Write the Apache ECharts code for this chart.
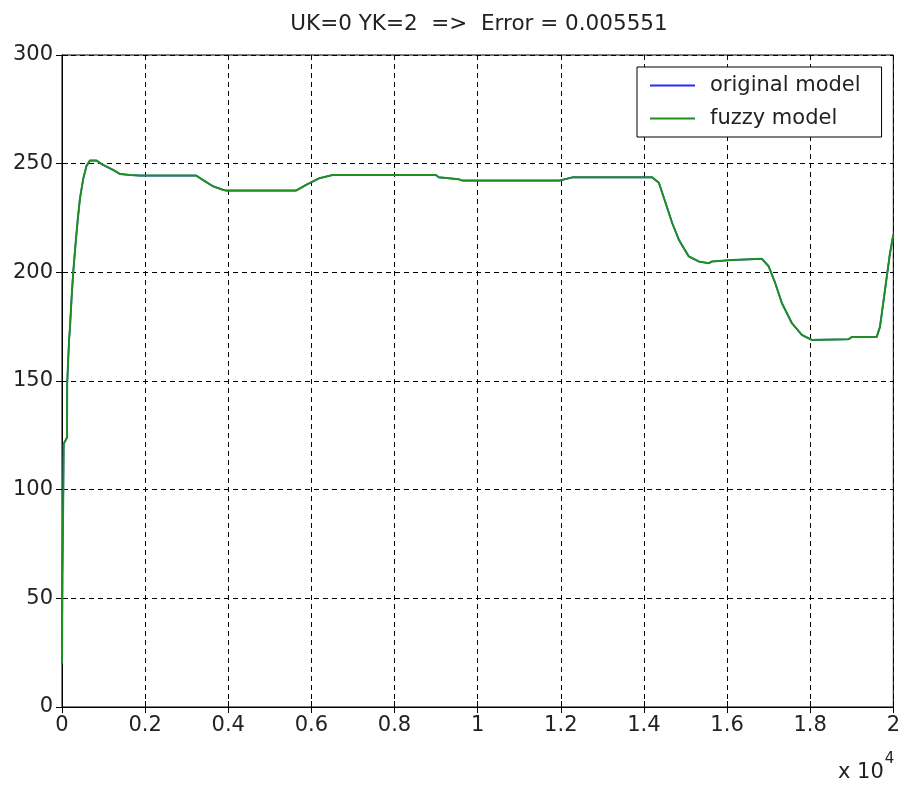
<!DOCTYPE html>
<html>
<head>
<meta charset="utf-8">
<title>UK=0 YK=2 model comparison</title>
<script src="https://cdn.jsdelivr.net/npm/echarts@6/dist/echarts.min.js"></script>
<style>
  html, body { margin: 0; padding: 0; background: #fff; }
  #chart { width: 903px; height: 787px; }
</style>
</head>
<body>
<div id="chart"></div>
<script>
// Time axis in units of 1e4 samples
const xTicks = [0, 0.2, 0.4, 0.6, 0.8, 1, 1.2, 1.4, 1.6, 1.8, 2];
const yTicks = [0, 50, 100, 150, 200, 250, 300];

// Sample times (x 1e4) and model outputs
const time = [
  0, 0.001, 0.003, 0.004, 0.012, 0.0125, 0.017, 0.019, 0.023, 0.027, 0.033,
  0.038, 0.043, 0.051, 0.059, 0.067, 0.083, 0.099, 0.123, 0.139, 0.163,
  0.187, 0.323, 0.339, 0.363, 0.387, 0.395, 0.563, 0.587, 0.619, 0.651,
  0.899, 0.907, 0.955, 0.963, 1.196, 1.228, 1.420, 1.436, 1.452, 1.468,
  1.484, 1.508, 1.532, 1.556, 1.564, 1.612, 1.684, 1.700, 1.716, 1.732,
  1.756, 1.780, 1.804, 1.892, 1.900, 1.960, 1.968, 1.980, 1.992, 2.000
];
const originalModel = [
  20, 60, 97, 121, 124, 149, 169, 174, 188, 200, 214,
  224.5, 233.7, 243, 249, 251.4, 251.4, 249.4, 247.1, 245.3, 244.8,
  244.5, 244.5, 242.5, 239.6, 238, 237.6, 237.6, 240.2, 243.3, 244.8,
  244.8, 243.7, 242.8, 242.2, 242.2, 243.7, 243.7, 241.2, 232, 222.7,
  215, 207.3, 205, 204.2, 205, 205.7, 206.2, 202.8, 195, 185.8,
  176.6, 171.2, 168.9, 169.2, 170.2, 170.2, 175, 191.9, 208.8, 217.3
];
const fuzzyModel = [
  20, 60, 97, 121, 124, 149, 169, 174, 188, 200, 214,
  224.5, 233.7, 243, 249, 251.4, 251.4, 249.4, 247.1, 245.3, 244.8,
  244.5, 244.5, 242.5, 239.6, 238, 237.6, 237.6, 240.2, 243.3, 244.8,
  244.8, 243.7, 242.8, 242.2, 242.2, 243.7, 243.7, 241.2, 232, 222.7,
  215, 207.3, 205, 204.2, 205, 205.7, 206.2, 202.8, 195, 185.8,
  176.6, 171.2, 168.9, 169.2, 170.2, 170.2, 175, 191.9, 208.8, 217.3
];

const seriesNames = ['original model', 'fuzzy model'];
const titleText = 'UK=0 YK=2  =>  Error = 0.005551';

const FONT = 'DejaVu Sans';
const TXT = '#222';
const FS = 21;

const pairs = (ys) => time.map((t, i) => [t, ys[i]]);

const gridLine = { show: true, lineStyle: { color: '#000', type: [5, 4], width: 1 } };

const chart = echarts.init(document.getElementById('chart'), null, { renderer: 'canvas' });
chart.setOption({
  backgroundColor: '#fff',
  animation: false,
  title: {
    text: titleText,
    left: 474, top: 8, textAlign: 'center',
    textStyle: { fontFamily: FONT, fontSize: 21.5, fontWeight: 'normal', color: TXT }
  },
  grid: {
    left: 62, right: 7, top: 55, bottom: 80,
    show: true, borderColor: '#000', borderWidth: 1, backgroundColor: '#fff'
  },
  legend: {
    data: seriesNames,
    orient: 'vertical',
    left: 637, top: 67,
    padding: [8, 21, 8, 13],
    itemGap: 12,
    itemWidth: 45, itemHeight: 2,
    icon: 'rect',
    backgroundColor: '#fff',
    borderColor: '#000', borderWidth: 1,
    textStyle: { fontFamily: FONT, fontSize: FS, color: TXT, padding: [0, 0, 0, 10] }
  },
  xAxis: [{
    type: 'value', min: 0, max: 2, interval: 0.2,
    axisLine: { show: true, lineStyle: { color: '#000' } },
    axisTick: { show: true, inside: true, length: 6, lineStyle: { color: '#000' } },
    axisLabel: {
      fontFamily: FONT, fontSize: FS, color: TXT, margin: 8,
      formatter: (v) => {
        const m = xTicks.find((t) => Math.abs(t - v) < 1e-9);
        return m === undefined ? '' : String(m);
      }
    },
    splitLine: gridLine
  }, {
    type: 'value', min: 0, max: 2, interval: 0.2, position: 'top',
    axisLine: { show: true, lineStyle: { color: '#000' } },
    axisTick: { show: true, inside: true, length: 6, lineStyle: { color: '#000' } },
    axisLabel: { show: false }, splitLine: { show: false }
  }],
  yAxis: [{
    type: 'value', min: 0, max: 300, interval: 50,
    axisLine: { show: true, lineStyle: { color: '#000' } },
    axisTick: { show: true, inside: true, length: 6, lineStyle: { color: '#000' } },
    axisLabel: {
      fontFamily: FONT, fontSize: FS, color: TXT, margin: 9,
      formatter: (v) => (yTicks.includes(v) ? String(v) : '')
    },
    splitLine: gridLine
  }, {
    type: 'value', min: 0, max: 300, interval: 50, position: 'right',
    axisLine: { show: true, lineStyle: { color: '#000' } },
    axisTick: { show: true, inside: true, length: 6, lineStyle: { color: '#000' } },
    axisLabel: { show: false }, splitLine: { show: false }
  }],
  series: [{
    name: seriesNames[0], type: 'line', data: pairs(originalModel),
    showSymbol: false, symbol: 'none', smooth: false,
    lineStyle: { color: '#2a2aff', width: 1.6 }, itemStyle: { color: '#2a2aff' }
  }, {
    name: seriesNames[1], type: 'line', data: pairs(fuzzyModel),
    showSymbol: false, symbol: 'none', smooth: false,
    lineStyle: { color: '#1f901f', width: 2 }, itemStyle: { color: '#1f901f' }
  }],
  graphic: [{
    type: 'text', left: 838, top: 752,
    style: {
      text: '{b|x 10}{s|4}',
      rich: {
        b: { fontFamily: FONT, fontSize: FS, fill: TXT, padding: [10, 0, 0, 0] },
        s: { fontFamily: FONT, fontSize: 15, fill: TXT, verticalAlign: 'top', padding: [0, 0, 12, 1] }
      }
    }
  }]
});
</script>
</body>
</html>
